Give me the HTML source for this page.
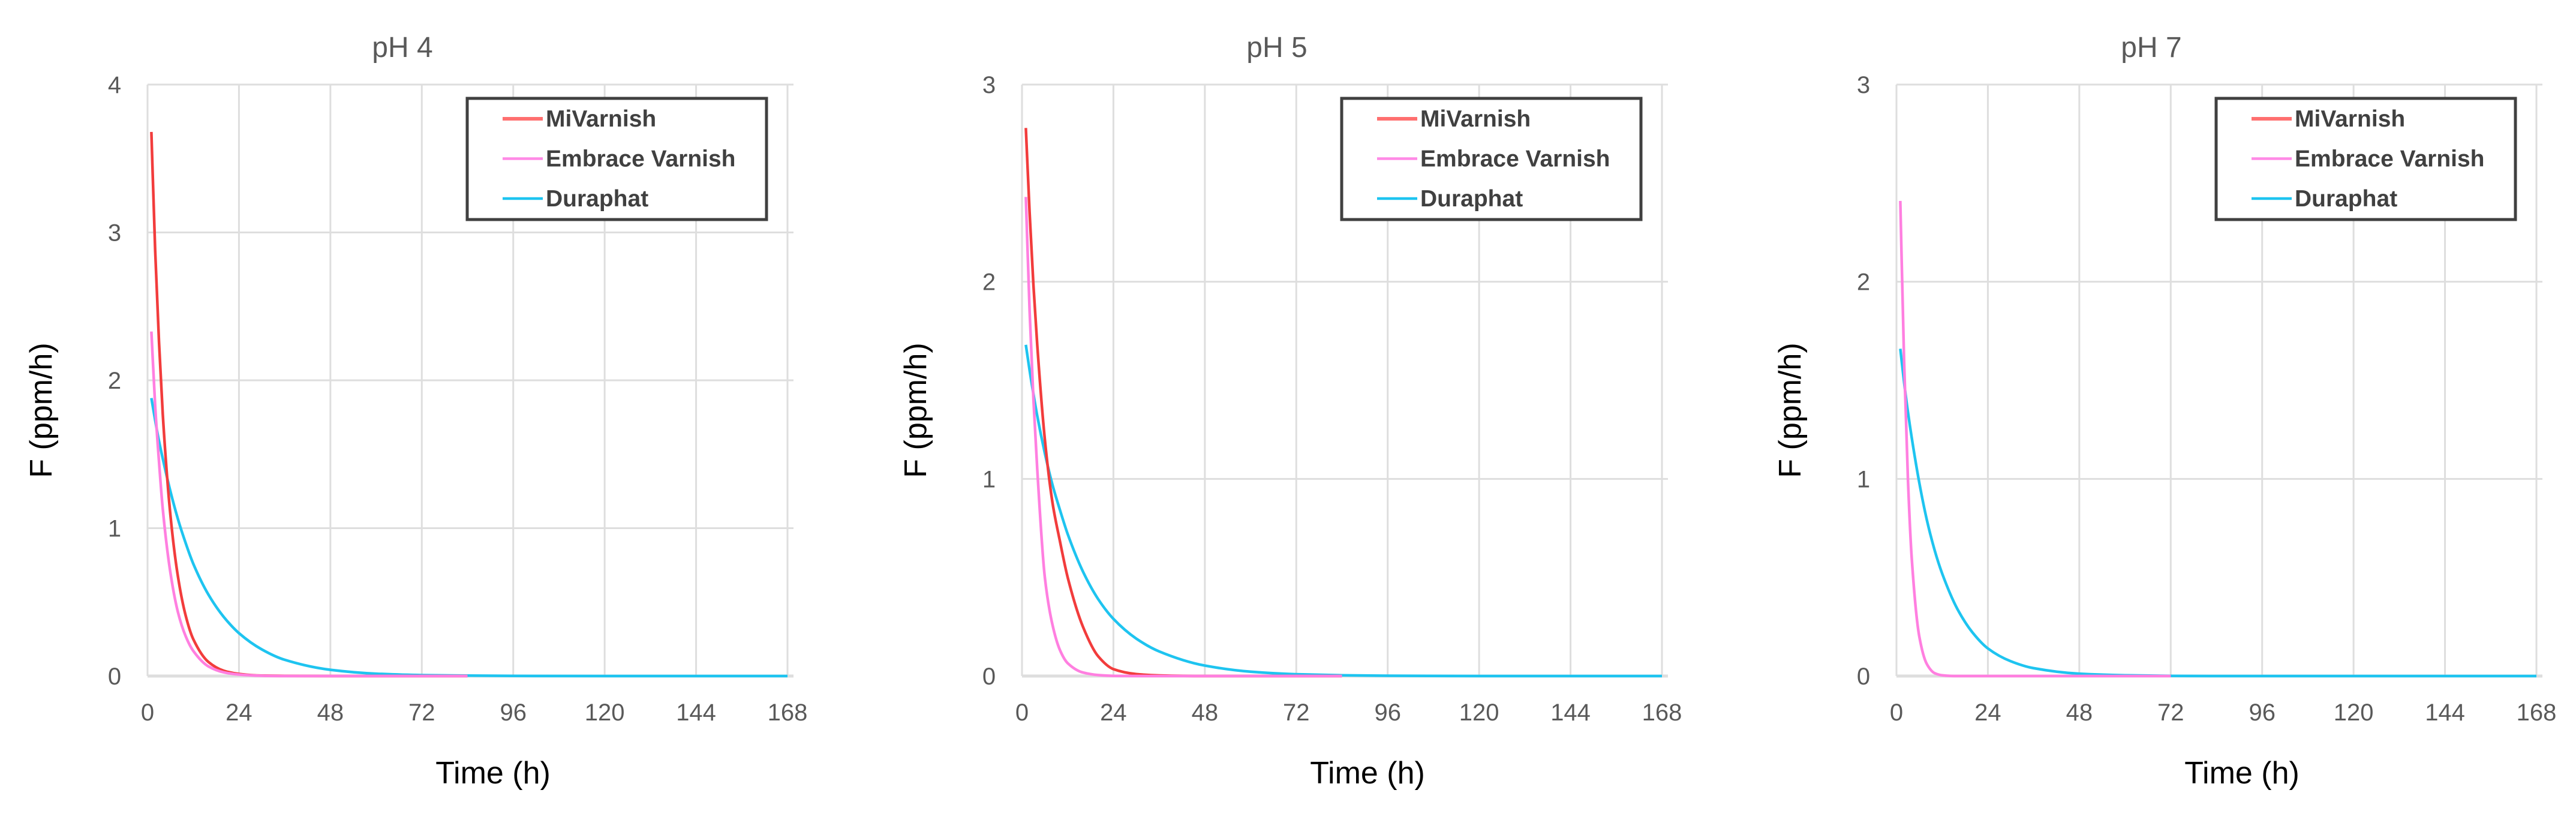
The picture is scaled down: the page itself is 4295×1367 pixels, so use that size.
<!DOCTYPE html>
<html><head><meta charset="utf-8"><style>
html,body{margin:0;padding:0;background:#fff;}
svg{display:block;font-family:"Liberation Sans",sans-serif;}
</style></head><body>
<svg id="chart" width="4295" height="1367" viewBox="0 0 4295 1367" xmlns="http://www.w3.org/2000/svg"></svg>
<script>
const hours = [1,2,3,4,6,8,10,12,16,20,24,30,36,48,60,72,84,96,120,144,168];
const panelTitles = ["pH 4","pH 5","pH 7"];
const yMaxes = [4,3,3];
const xTickLabels = [0,24,48,72,96,120,144,168];
const seriesNames = ["MiVarnish","Embrace Varnish","Duraphat"];
// pH 4
const mi4  = [3.68,2.88,2.26,1.77,1.09,0.67,0.41,0.25,0.095,0.036,0.014,0.003,0.001,0,0,0,0];
const emb4 = [2.33,1.83,1.45,1.13,0.70,0.43,0.27,0.17,0.065,0.025,0.01,0.002,0,0,0,0,0];
const dur4 = [1.88,1.73,1.59,1.47,1.25,1.06,0.90,0.76,0.55,0.40,0.29,0.18,0.11,0.042,0.016,0.006,0.003,0.001,0,0,0];
// pH 5
const mi5  = [2.78,2.35,1.98,1.68,1.20,0.88,0.68,0.50,0.25,0.10,0.035,0.01,0.003,0,0,0,0];
const emb5 = [2.43,1.85,1.40,1.05,0.50,0.26,0.13,0.065,0.018,0.005,0.001,0,0,0,0,0,0];
const dur5 = [1.68,1.55,1.43,1.32,1.13,0.97,0.84,0.72,0.53,0.39,0.29,0.19,0.125,0.053,0.022,0.009,0.004,0.0015,0,0,0];
// pH 7
const mi7  = [];
const emb7 = [2.41,1.60,1.00,0.60,0.20,0.06,0.015,0.004,0,0,0,0,0,0,0,0];
const dur7 = [1.66,1.49,1.34,1.21,0.98,0.79,0.64,0.52,0.34,0.22,0.14,0.075,0.04,0.012,0.004,0.001,0,0,0,0,0];

const panels = [[mi4,emb4,dur4],[mi5,emb5,dur5],[mi7,emb7,dur7]];
const colors = ["#f23c3c","#ff7fe0","#1ec4f0"];
const legendColors = ["#ff6f6f","#ff8ae6","#1ec4f0"];
const NS = "http://www.w3.org/2000/svg";
const svg = document.getElementById("chart");
function mk(tag, attrs, parent){
  const e = document.createElementNS(NS, tag);
  for (const k in attrs) e.setAttribute(k, attrs[k]);
  (parent||svg).appendChild(e);
  return e;
}
function monoPath(px, py){
  const n = px.length;
  if (n < 2) return "";
  const d = [], m = new Array(n);
  for (let i=0;i<n-1;i++) d.push((py[i+1]-py[i])/(px[i+1]-px[i]));
  m[0]=d[0]; m[n-1]=d[n-2];
  for (let i=1;i<n-1;i++){
    if (d[i-1]*d[i] <= 0) m[i]=0;
    else { const w1=2*(px[i+1]-px[i])+(px[i]-px[i-1]), w2=(px[i+1]-px[i])+2*(px[i]-px[i-1]);
      m[i]=(w1+w2)/(w1/d[i-1]+w2/d[i]); }
  }
  let s = "M"+px[0].toFixed(1)+","+py[0].toFixed(1);
  for (let i=0;i<n-1;i++){
    const h = px[i+1]-px[i];
    s += "C"+(px[i]+h/3).toFixed(1)+","+(py[i]+m[i]*h/3).toFixed(1)+" "+
         (px[i+1]-h/3).toFixed(1)+","+(py[i+1]-m[i+1]*h/3).toFixed(1)+" "+
         px[i+1].toFixed(1)+","+py[i+1].toFixed(1);
  }
  return s;
}
const X0 = 246, X1 = 1313, YTOP = 141, YZERO = 1127, PANEL_DX = 1458;

panels.forEach((series, p) => {
  const off = p * PANEL_DX;
  const yMax = yMaxes[p];
  const xs = h => off + X0 + (h/168)*(X1-X0);
  const ys = v => YZERO - (v/yMax)*(YZERO-YTOP);
  const g = mk("g", {});
  
  
  xTickLabels.forEach(t => {
    const l = mk("line", {x1:xs(t), x2:xs(t), y1:YTOP, y2:YZERO, stroke:"#dedede", "stroke-width":3}, g);
    
    
    const tx = mk("text", {x:xs(t), y:1201, "text-anchor":"middle", "font-size":40, fill:"#595959"}, g);
    tx.textContent = t;
    
    
  });
  for (let v = 0; v <= yMax; v++) {
    const l = mk("line", {x1:off+X0, x2:off+X1+10, y1:ys(v), y2:ys(v), stroke:"#dedede", "stroke-width": v===0?5:3}, g);
    
    
    const tx = mk("text", {x:off+191, y:ys(v)+14, "text-anchor":"middle", "font-size":40, fill:"#595959"}, g);
    tx.textContent = v;
    
    
  }
  [2,0,1].forEach(si => {
    const vals = series[si];
    if (!vals.length) return;
    const px = vals.map((v,i) => xs(hours[i]));
    const py = vals.map(v => ys(v));
    const path = mk("path", {d:monoPath(px,py), fill:"none", stroke:colors[si], "stroke-width":4.5, "stroke-linejoin":"round"}, g);
    
    
  });
  const t = mk("text", {x:off+671, y:95, "text-anchor":"middle", "font-size":48, fill:"#595959"}, g);
  t.textContent = panelTitles[p];
  
  
  const xt = mk("text", {x:off+822, y:1306, "text-anchor":"middle", "font-size":52, fill:"#000"}, g);
  xt.textContent = "Time (h)";
  
  
  const yt = mk("text", {x:0, y:0, "text-anchor":"middle", "font-size":52, fill:"#000", transform:"translate(" + (off+86) + ",684) rotate(-90)"}, g);
  yt.textContent = "F (ppm/h)";
  
  
  const lg = mk("g", {}, g);
  
  
  mk("rect", {x:off+779, y:164, width:499, height:202, fill:"#fff", stroke:"#404040", "stroke-width":5}, lg);
  seriesNames.forEach((n, i) => {
    const cy = 198 + i*66.5;
    const ent = mk("g", {}, lg);
    
    
    mk("line", {x1:off+838, x2:off+905, y1:cy, y2:cy, stroke:legendColors[i], "stroke-width": i===0?6:4.5}, ent);
    const tx = mk("text", {x:off+910, y:cy+13, "font-size":39, "font-weight":"bold", fill:"#404040"}, ent);
    tx.textContent = n;
  });
});
</script>
</body></html>
